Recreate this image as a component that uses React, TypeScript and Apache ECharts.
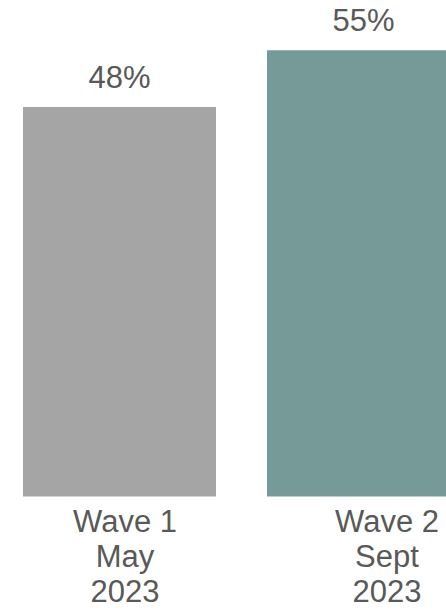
import React, { useEffect, useRef } from "react";
import * as echarts from "echarts";

const categories = ["Wave 1\nMay\n2023", "Wave 2\nSept\n2023"];
const values = [48, 55];
const barColors = ["#A5A5A5", "#769A98"];

export default function App() {
  const ref = useRef<HTMLDivElement>(null);
  useEffect(() => {
    if (!ref.current) return;
    const chart = echarts.init(ref.current, null, { renderer: "svg" });
    const font = "'Liberation Sans', Arial, sans-serif";
    chart.setOption({
      animation: false,
      backgroundColor: "#ffffff",
      grid: [
        { left: -2.5, width: 488, top: 9.6, bottom: 115.5, containLabel: false, outerBoundsMode: "none" },
        { left: -6, width: 524, top: 9.6, bottom: 115.5, containLabel: false, outerBoundsMode: "none" },
      ],
      xAxis: [
        {
          type: "category",
          gridIndex: 0,
          data: categories,
          axisLine: { show: false },
          axisTick: { show: false },
          axisLabel: { show: false },
        },
        {
          type: "category",
          gridIndex: 1,
          data: categories,
          axisLine: { show: false },
          axisTick: { show: false },
          axisLabel: {
            show: true,
            interval: 0,
            margin: 7,
            color: "#595959",
            fontSize: 31,
            lineHeight: 35,
            fontFamily: font,
            align: "center",
          },
        },
      ],
      yAxis: [
        { type: "value", gridIndex: 0, min: 0, max: 60, show: false, splitLine: { show: false } },
        { type: "value", gridIndex: 1, min: 0, max: 60, show: false, splitLine: { show: false } },
      ],
      series: [
        {
          type: "bar",
          xAxisIndex: 0,
          yAxisIndex: 0,
          barWidth: 193,
          data: values.map((v, i) => ({ value: v, itemStyle: { color: barColors[i] } })),
          label: {
            show: true,
            position: "top",
            distance: 14,
            formatter: "{c}%",
            color: "#595959",
            fontSize: 31,
            fontFamily: font,
          },
        },
      ],
    });
    return () => chart.dispose();
  }, []);
  return (
    <div
      ref={ref}
      style={{ position: "absolute", left: 0, top: 0, width: 446, height: 612 }}
    />
  );
}
